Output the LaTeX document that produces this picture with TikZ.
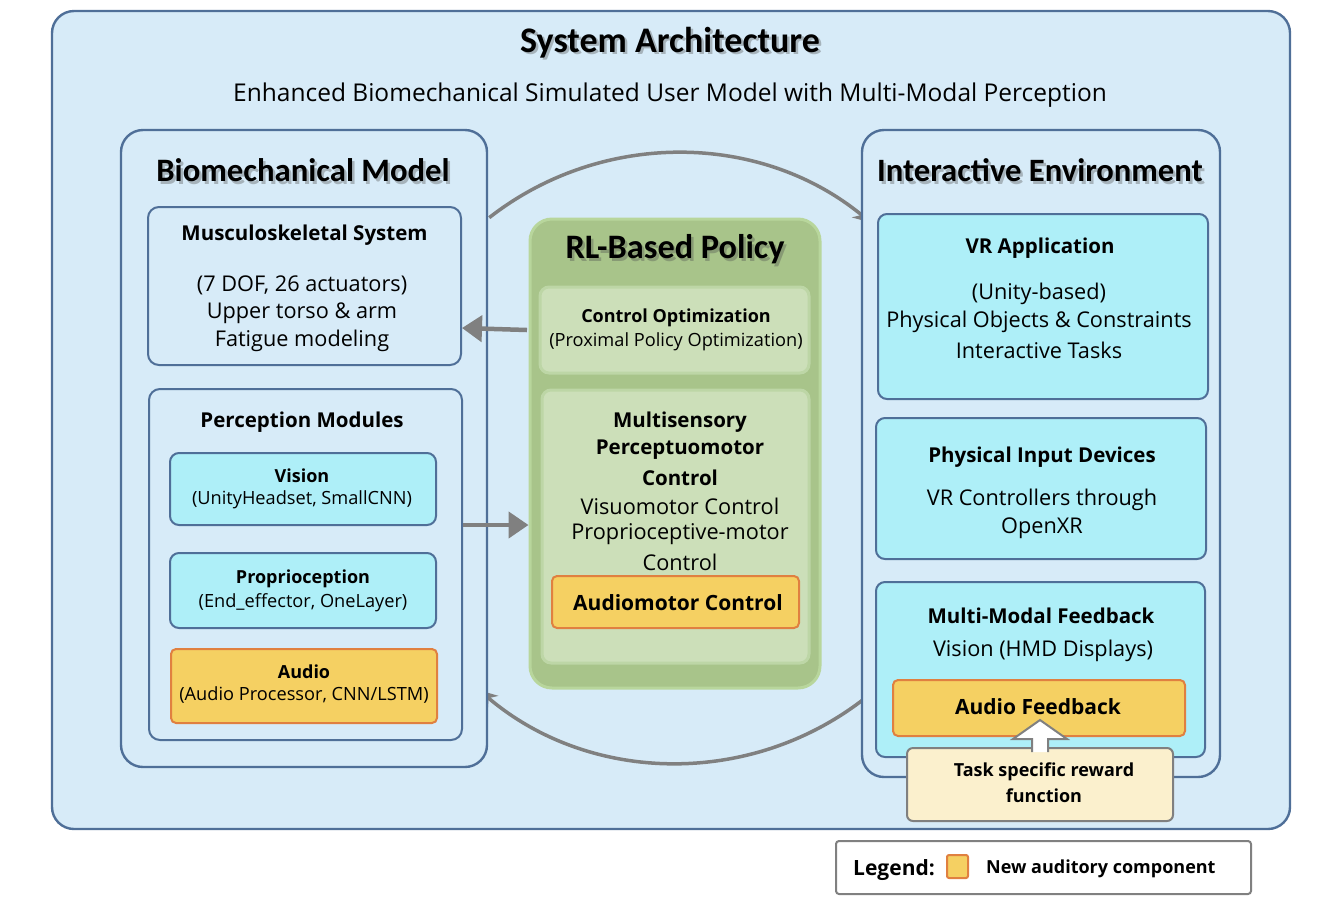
\documentclass[tikz,border=0pt]{standalone}
\usepackage{fontspec}
\setmainfont{Open Sans}
\newfontfamily\hdfont{Carlito}
\usetikzlibrary{arrows.meta}
\definecolor{bgc}{HTML}{D7EBF8}
\definecolor{bdc}{HTML}{4F6F98}
\definecolor{cyanc}{HTML}{AEEFF8}
\definecolor{orf}{HTML}{F5D062}
\definecolor{orb}{HTML}{E08040}
\definecolor{grn}{HTML}{A8C48A}
\definecolor{grnb}{HTML}{B8D69C}
\definecolor{grni}{HTML}{CCDFB9}
\definecolor{grnib}{HTML}{BDD6A6}
\definecolor{rwf}{HTML}{FBF0CD}
\definecolor{grayc}{HTML}{808080}
\newcommand\fsz[2]{\fontsize{#1}{#2}\selectfont}
\tikzset{
  panel/.style={draw=bdc, fill=bgc, line width=2.4pt, rounded corners=22pt, inner sep=0pt},
  sbox/.style={draw=bdc, fill=bgc, line width=2pt, rounded corners=11pt, inner sep=0pt},
  cbox/.style={draw=bdc, fill=cyanc, line width=2pt, rounded corners=9pt, inner sep=0pt},
  obox/.style={draw=orb, fill=orf, line width=2pt, rounded corners=5pt, inner sep=0pt},
  gpanel/.style={draw=grnb, fill=grn, line width=3pt, rounded corners=22pt, inner sep=0pt},
  gbox/.style={draw=grnib, fill=grni, line width=3pt, rounded corners=9pt, inner sep=0pt},
  hd/.style={font=\hdfont\bfseries\fsz{#1}{40}, inner sep=0pt},
  hdsh/.style={hd=#1, text=black!70, opacity=0.35},
  bt/.style={font=\bfseries\fsz{20.5}{24}, inner sep=0pt, yshift=-2pt},
  nt/.style={font=\fsz{21.7}{26}, inner sep=0pt, yshift=-2pt},
  st/.style={font=\fsz{18.2}{21}, inner sep=0pt, yshift=-1.5pt},
  sbt/.style={font=\bfseries\fsz{18}{21}, inner sep=0pt, yshift=-1.5pt},
  mbt/.style={font=\bfseries\fsz{21}{26}, inner sep=0pt, yshift=-2pt},
  flow/.style={draw=grayc, line width=4.5pt, -{Triangle[length=20pt,width=26pt]}},
  arcflow/.style={draw=grayc, line width=3.5pt, -{Stealth[length=18pt,width=16pt]}},
}
\begin{document}
\begin{tikzpicture}[x=1pt,y=-1pt]
\useasboundingbox (0,0) rectangle (1338,898);
% outer
\node[panel, minimum width=1238pt, minimum height=818pt] (outer) at (671,420) {};
\node[hdsh=36] (titles) at (672.5,45) {System Architecture};
\node[hd=36] (title) at (670,42.5) {System Architecture};
\node[font=\fsz{24.5}{28}, inner sep=0pt] (sub) at (670,95.5) {Enhanced Biomechanical Simulated User Model with Multi-Modal Perception};

% circle arcs
\coordinate (C) at (677,458);
\draw[arcflow] (C) ++(-128:305) arc[start angle=-128, end angle=-50.5, radius=305];
\draw[arcflow] (C) ++(51.8:305) arc[start angle=51.8, end angle=130.4, radius=305];

% left panel
\node[panel, minimum width=366pt, minimum height=637pt] (left) at (304,448.5) {};
\node[hdsh=32.7] (lefttitles) at (305.5,173) {Biomechanical Model};
\node[hd=32.7] (lefttitle) at (303,170.5) {Biomechanical Model};

\node[sbox, minimum width=313pt, minimum height=158pt] (musc) at (304.5,286) {};
\node[bt] (musct) at (304.5,233) {Musculoskeletal System};
\node[nt] (musc1) at (302,283) {(7 DOF, 26 actuators)};
\node[nt] (musc2) at (302,311) {Upper torso \& arm};
\node[nt] (musc3) at (302,339) {Fatigue modeling};

\node[sbox, minimum width=313pt, minimum height=351pt] (perc) at (305.5,564.5) {};
\node[bt] (perct) at (302,420) {Perception Modules};
\node[cbox, minimum width=266pt, minimum height=72pt] (vision) at (303,489) {};
\node[sbt] (vision1) at (302,474) {Vision};
\node[st] (vision2) at (302,498) {(UnityHeadset, SmallCNN)};
\node[cbox, minimum width=266pt, minimum height=75pt] (prop) at (303,590.5) {};
\node[sbt] (prop1) at (303,577) {Proprioception};
\node[st] (prop2) at (303,601) {(End\_effector, OneLayer)};
\node[obox, minimum width=266pt, minimum height=74pt] (audio) at (304,686) {};
\node[sbt] (audio1) at (304,670) {Audio};
\node[st] (audio2) at (304,694) {(Audio Processor, CNN/LSTM)};

% green panel
\node[gpanel, minimum width=290pt, minimum height=469pt] (rl) at (675,453.5) {};
\node[hdsh=34.3] (rlts) at (677.5,252) {RL-Based Policy};
\node[hd=34.3] (rlt) at (675,249.5) {RL-Based Policy};
\node[gbox, minimum width=269pt, minimum height=86pt] (ctrl) at (674.5,330) {};
\node[sbt] (ctrl1) at (676,316) {Control Optimization};
\node[st] (ctrl2) at (676,340) {(Proximal Policy Optimization)};
\node[gbox, minimum width=267pt, minimum height=273pt] (multi) at (675.5,526.5) {};
\node[bt] (multi1) at (680,420) {Multisensory};
\node[bt] (multi2) at (680,448) {Perceptuomotor};
\node[bt] (multi3) at (680,476) {Control};
\node[nt] (multi4) at (680,504) {Visuomotor Control};
\node[nt] (multi5) at (680,532) {Proprioceptive-motor};
\node[nt] (multi6) at (680,560) {Control};
\node[obox, minimum width=247pt, minimum height=52pt] (amc) at (675.5,602) {};
\node[mbt] (amct) at (678,601) {Audiomotor Control};

% right panel
\node[panel, minimum width=358pt, minimum height=647pt] (right) at (1041,453.5) {};
\node[hdsh=32.6] (rightts) at (1042.5,173) {Interactive Environment};
\node[hd=32.6] (rightt) at (1040,170.5) {Interactive Environment};
\node[cbox, minimum width=330pt, minimum height=185pt] (vr) at (1043,306.5) {};
\node[bt] (vr1) at (1040,246) {VR Application};
\node[nt] (vr2) at (1039,292) {(Unity-based)};
\node[nt] (vr3) at (1039,320) {Physical Objects \& Constraints};
\node[nt] (vr4) at (1039,348) {Interactive Tasks};
\node[cbox, minimum width=330pt, minimum height=141pt] (pid) at (1041,488.5) {};
\node[bt] (pid1) at (1042,455) {Physical Input Devices};
\node[nt] (pid2) at (1042,498) {VR Controllers through};
\node[nt] (pid3) at (1042,526) {OpenXR};
\node[cbox, minimum width=329pt, minimum height=175pt] (mmf) at (1040.5,669.5) {};
\node[bt] (mmf1) at (1041,614) {Multi-Modal Feedback};
\node[nt] (mmf2) at (1043,649) {Vision (HMD Displays)};
\node[obox, minimum width=292pt, minimum height=56pt] (afb) at (1039,708) {};
\node[mbt] (afbt) at (1038,705) {Audio Feedback};
\node[draw=grayc, fill=rwf, line width=2pt, rounded corners=6pt, minimum width=266pt, minimum height=73pt, inner sep=0pt] (reward) at (1040,784.5) {};
\node[sbt] (rw1) at (1044,770) {Task specific reward};
\node[sbt] (rw2) at (1044,794) {function};
% hollow block arrow from reward to audio feedback
\draw[draw=grayc, fill=white, line width=2pt, line join=miter]
  (1032,752) -- (1032,739) -- (1013,739) -- (1040,720) -- (1067,739) -- (1048,739) -- (1048,752);

% straight arrows
\draw[flow] (ctrl.west -| 527,328) -- (musc.east |- 0,328);
\draw[flow] (perc.east |- 0,525) -- (rl.west |- 0,525);

% legend
\node[draw=grayc, fill=white, line width=2pt, rounded corners=3pt, minimum width=415pt, minimum height=53pt, inner sep=0pt] (legend) at (1043.5,867.5) {};
\node[mbt, anchor=west] (legt) at (853,868) {Legend:};
\node[draw=orb, fill=orf, line width=2pt, rounded corners=2pt, minimum width=21pt, minimum height=23pt, inner sep=0pt] (legsq) at (957.5,866.5) {};
\node[sbt, anchor=west] (legd) at (986,867) {New auditory component};
\end{tikzpicture}
\end{document}
